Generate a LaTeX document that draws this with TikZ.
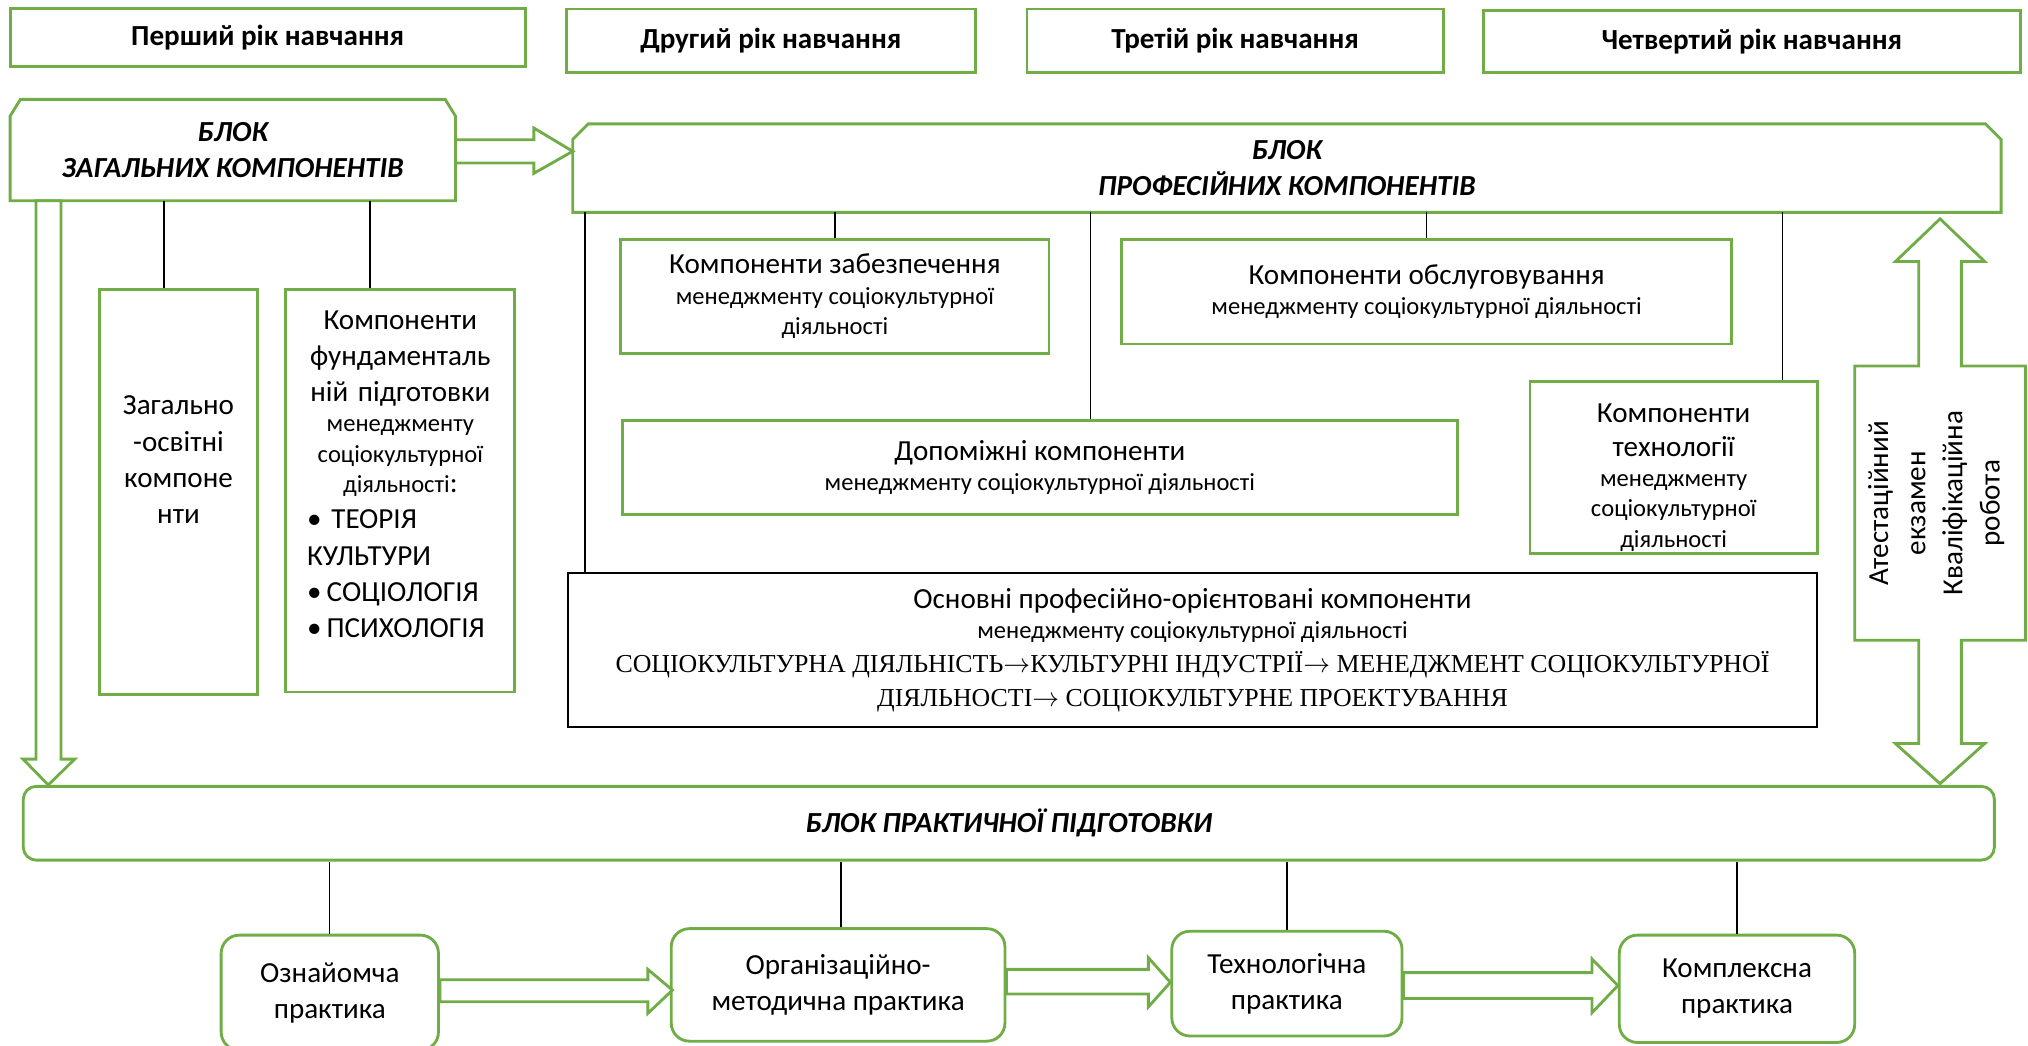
\documentclass[tikz,border=0pt]{standalone}
\usepackage{fontspec}
\setmainfont{Carlito}
\newfontfamily\timesf{Liberation Serif}
\usetikzlibrary{calc}
\definecolor{grn}{RGB}{112,173,71}
\newcommand{\subsz}{\fontsize{19}{23.5}\selectfont}

\begin{document}
\begin{tikzpicture}[
        x=1pt, y=-1pt,
        % Node styles
        yearbox/.style={rectangle, draw=grn, line width=2.2pt, inner sep=0pt, align=flush center,
                        font=\fontsize{22.5}{28}\selectfont\bfseries},
        blockbox/.style={rectangle, inner sep=0pt, align=flush center,
                        font=\fontsize{22.5}{27.5}\selectfont\bfseries\itshape},
        compbox/.style={rectangle, draw=grn, line width=2.2pt, inner sep=0pt, align=flush center,
                        font=\fontsize{22.5}{26}\selectfont},
        mainbox/.style={rectangle, draw=black, line width=1.6pt, inner sep=0pt, align=flush center,
                        font=\fontsize{22.5}{24}\selectfont},
        practice/.style={rectangle, rounded corners=14pt, draw=grn, line width=2.2pt, inner sep=0pt,
                        align=flush center, font=\fontsize{22.5}{28}\selectfont},
        txt/.style={inner sep=0pt, align=center, font=\fontsize{22.5}{28}\selectfont},
        listtxt/.style={inner sep=0pt, text width=144pt, font=\fontsize{22.5}{28}\selectfont},
        greenline/.style={draw=grn, line width=2.2pt, line join=miter},
        hollow/.style={draw=grn, line width=2.2pt, fill=white, line join=miter},
        link/.style={draw=black, line width=1pt}
    ]
        \clip (0,0) rectangle (1568,808);

        % Year headers
        \node[yearbox, text width=398pt, minimum height=45pt] (year1) at (207,29) {Перший рік навчання};
        \node[yearbox, text width=316pt, minimum height=49pt] (year2) at (596,31.5) {Другий рік навчання};
        \node[yearbox, text width=322pt, minimum height=49pt] (year3) at (955,31.5) {Третій рік навчання};
        \node[yearbox, text width=415pt, minimum height=48pt] (year4) at (1354.5,32) {Четвертий рік навчання};

        % Blocks
        \node[blockbox, text width=344pt, minimum height=78pt] (zag) at (180,116) {БЛОК\\ЗАГАЛЬНИХ КОМПОНЕНТІВ};
        \node[blockbox, text width=1104pt, minimum height=68pt] (prof) at (995,130) {БЛОК\\ПРОФЕСІЙНИХ КОМПОНЕНТІВ};
        \node[blockbox, draw=grn, line width=2.2pt, rounded corners=10pt, text width=1524pt,
              minimum height=57pt] (prak) at (780,636.5) {БЛОК ПРАКТИЧНОЇ ПІДГОТОВКИ};

        % Block outlines with cut top corners
        \draw[greenline] (zag.south west) -- ($(zag.north west)+(0,13)$) -- ($(zag.north west)+(8,0)$)
            -- ($(zag.north east)+(-8,0)$) -- ($(zag.north east)+(0,13)$) -- (zag.south east) -- cycle;
        \draw[greenline] (prof.south west) -- ($(prof.north west)+(0,12)$) -- ($(prof.north west)+(12,0)$)
            -- ($(prof.north east)+(-12,0)$) -- ($(prof.north east)+(0,12)$) -- (prof.south east) -- cycle;

        % General components
        \node[compbox, minimum width=122pt, minimum height=313pt] (zagalno) at (138,380.5) {};
        \node[compbox, minimum width=177pt, minimum height=311pt] (fund) at (309.5,379.5) {};
        \node[txt] (zagtxt) at ([yshift=25pt]zagalno.center) {Загально\\-освітні\\компоне\\нти};
        \node[listtxt] (fundtxt) at ([yshift=13pt]fund.center) {%
            {\centering Компоненти\\фундаменталь\\ній підготовки\par}
            {\centering\subsz менеджменту\\соціокультурної\\діяльності{\fontsize{22.5}{28}\selectfont:}\par}
            {\raggedright •~ТЕОРІЯ\\КУЛЬТУРИ\\•\,СОЦІОЛОГІЯ\\•\,ПСИХОЛОГІЯ\par}};

        % Professional components
        \node[compbox, text width=331pt, minimum height=88pt] (zab) at (645.5,229)
            {Компоненти забезпечення\par{\subsz менеджменту соціокультурної\\діяльності\par}};
        \node[compbox, text width=472pt, minimum height=81pt] (obs) at (1103,225.5)
            {Компоненти обслуговування\par{\subsz менеджменту соціокультурної діяльності\par}};
        \node[compbox, text width=646pt, minimum height=73pt] (dop) at (804,361.5)
            {Допоміжні компоненти\par{\subsz менеджменту соціокультурної діяльності\par}};
        \node[compbox, text width=222pt, minimum height=133pt] (tech) at (1294,361.5)
            {\rule{0pt}{30pt}Компоненти\\технології\par{\subsz менеджменту\\соціокультурної\\діяльності\par}};
        \node[mainbox, text width=966pt, minimum height=119pt] (osn) at (922,502.5)
            {Основні професійно-орієнтовані компоненти\par
             {\subsz менеджменту соціокультурної діяльності\par}
             {\timesf\fontsize{20}{26}\selectfont СОЦІОКУЛЬТУРНА ДІЯЛЬНІСТЬ$\rightarrow$КУЛЬТУРНІ ІНДУСТРІЇ$\rightarrow$ МЕНЕДЖМЕНТ СОЦІОКУЛЬТУРНОЇ\\
              ДІЯЛЬНОСТІ$\rightarrow$ СОЦІОКУЛЬТУРНЕ ПРОЕКТУВАННЯ\par}};

        % Practice
        \node[practice, text width=168pt, minimum height=89pt] (ozn) at (255,767.5) {Ознайомча\\практика};
        \node[practice, text width=258pt, minimum height=87pt] (org) at (648,761.5) {Організаційно-\\методична практика};
        \node[practice, text width=178pt, minimum height=81pt] (techp) at (995,760.5) {Технологічна\\практика};
        \node[practice, text width=182pt, minimum height=83pt] (kompl) at (1343,764.5) {Комплексна\\практика};

        % Final attestation
        \coordinate (att) at (1500,389);
        \draw[hollow] ($(att |- prof.south)+(0,5)$) -- ++(34.5,33) -- ++(-18,0) -- ($(att)+(16.5,-106)$)
            -- ++(49.5,0) -- ++(0,212) -- ++(-49.5,0) -- ($(att |- prak.north)+(16.5,-32)$) -- ++(18,0)
            -- ($(att |- prak.north)+(0,-1)$) -- ++(-34.5,-31) -- ++(18,0) -- ($(att)+(-16.5,106)$)
            -- ++(-49.5,0) -- ++(0,-212) -- ++(49.5,0) -- ($(att |- prof.south)+(-16.5,38)$) -- ++(-18,0) -- cycle;
        \node[txt, rotate=90, font=\fontsize{22.5}{28.7}\selectfont] (atest) at (1497,389)
            {Атестаційний\\екзамен\\Кваліфікаційна\\робота};

        % Hollow arrows
        \draw[hollow] ($(zag.east)+(0,-8)$) -- ($(prof.west |- zag.east)+(-30,-8)$) -- ++(0,-9)
            -- ($(prof.west |- zag.east)+(0,1)$) -- ($(prof.west |- zag.east)+(-30,18)$) -- ++(0,-8)
            -- ($(zag.east)+(0,10)$) -- cycle;
        \draw[hollow] ($(zag.south west)+(20,0)$) -- ($(zag.south west |- prak.north)+(20,-20)$) -- ++(-10,0)
            -- ($(zag.south west |- prak.north)+(29.5,0)$) -- ++(20.5,-20) -- ++(-10.6,0)
            -- ($(zag.south west)+(39.4,0)$) -- cycle;
        \draw[hollow] ($(ozn.east)+(0,-10)$) -- ($(org.west |- ozn.east)+(-17,-10)$) -- ++(0,-8)
            -- ($(org.west |- ozn.east)+(2,-2)$) -- ($(org.west |- ozn.east)+(-17,16)$) -- ++(0,-9)
            -- ($(ozn.east)+(0,7)$) -- cycle;
        \draw[hollow] ($(org.east)+(0,-12)$) -- ($(techp.west |- org.east)+(-17,-12)$) -- ++(0,-9)
            -- ($(techp.west |- org.east)+(0,-2)$) -- ($(techp.west |- org.east)+(-17,17)$) -- ++(0,-10)
            -- ($(org.east)+(0,7)$) -- cycle;
        \draw[hollow] ($(techp.east)+(0,-8.5)$) -- ($(kompl.west |- techp.east)+(-20,-8.5)$) -- ++(0,-10.5)
            -- ($(kompl.west |- techp.east)+(0,1.5)$) -- ($(kompl.west |- techp.east)+(-20,22.5)$) -- ++(0,-11)
            -- ($(techp.east)+(0,11.5)$) -- cycle;

        % Links from blocks
        \draw[link, line width=1.8pt] ($(zagalno.north)+(-11,0)$) -- ($(zagalno.north |- zag.south)+(-11,0)$);
        \draw[link, line width=1.8pt] ($(fund.north)+(-23.5,0)$) -- ($(fund.north |- zag.south)+(-23.5,0)$);
        \draw[link, line width=1.5pt] ($(osn.north west)+(14,0)$) -- ($(osn.north west |- prof.south)+(14,0)$);
        \draw[link, line width=1.5pt] (zab.north) -- (zab.north |- prof.south);
        \draw[link] ($(dop.north)+(39,0)$) -- ($(dop.north |- prof.south)+(39,0)$);
        \draw[link] (obs.north) -- (obs.north |- prof.south);
        \draw[link] ($(tech.north)+(84,0)$) -- ($(tech.north |- prof.south)+(84,0)$);
        \draw[link] (ozn.north) -- (ozn.north |- prak.south);
        \draw[link, line width=1.5pt] ($(org.north)+(2,0)$) -- ($(org.north |- prak.south)+(2,0)$);
        \draw[link] (techp.north) -- (techp.north |- prak.south);
        \draw[link] (kompl.north) -- (kompl.north |- prak.south);
    \end{tikzpicture}
\end{document}
